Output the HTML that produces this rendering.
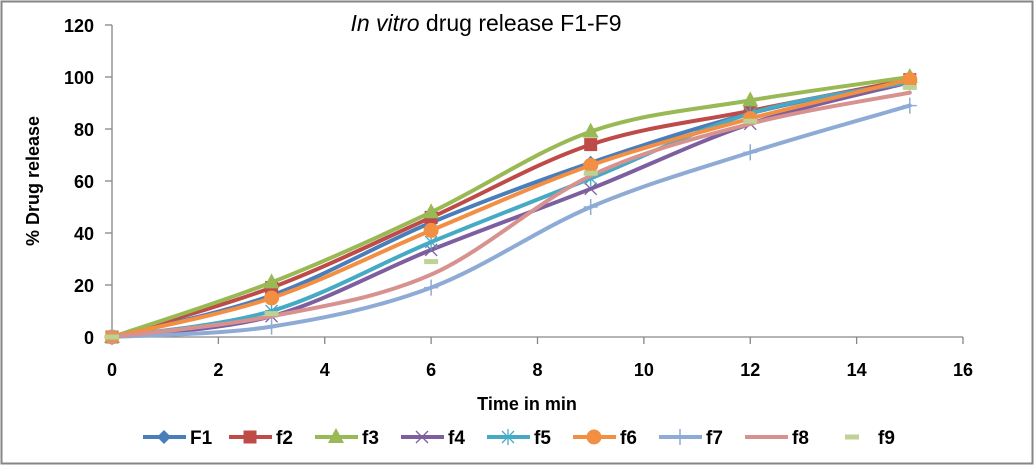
<!DOCTYPE html>
<html><head><meta charset="utf-8"><style>
html,body{margin:0;padding:0;background:#fff;}
svg{display:block;font-family:"Liberation Sans",Arial,sans-serif;}
</style></head><body>
<svg id="chart" width="1034" height="465" viewBox="0 0 1034 465">
<rect x="1.5" y="1.5" width="1031" height="462" fill="#fff" stroke="#868686" stroke-width="2"/>
<text x="486" y="31" text-anchor="middle" font-size="23"><tspan font-style="italic">In vitro</tspan><tspan> drug release F1-F9</tspan></text>
<g id="axes"></g>
<g id="series"></g>
<text x="527" y="410" text-anchor="middle" font-size="18" font-weight="bold">Time in min</text>
<text transform="translate(39,181) rotate(-90)" text-anchor="middle" font-size="18" font-weight="bold">% Drug release</text>
<g id="legend"></g>
</svg>
<script>
const times = [0, 3, 6, 9, 12, 15];
const seriesNames = ["F1","f2","f3","f4","f5","f6","f7","f8","f9"];
const F1 = [0, 16, 44, 67, 86, 99];
const f2 = [0, 19, 46, 74, 87, 99];
const f3 = [0, 21, 48, 79, 91, 100];
const f4 = [0, 8, 33.5, 57, 82, 98];
const f5 = [0, 10, 36.5, 61, 86, 98];
const f6 = [0, 15, 41, 66, 84, 99];
const f7 = [0, 4, 19, 50, 71, 89];
const f8 = [0, 8, 24, 62, 82, 94];
const f9 = [0, 9, 29, 63, 83, 96];
const xTicks = [0,2,4,6,8,10,12,14,16];
const yTicks = [0,20,40,60,80,100,120];

const seriesData = [F1,f2,f3,f4,f5,f6,f7,f8,f9];
const colors = ["#4A7EBB","#BE4B48","#98B954","#7D5FA0","#46AAC5","#F28F43","#8EABD6","#D7918F","#BDD396"];
const markers = ["diamond","square","triangle","x","star","circle","plus","none","dash"];
const hasLine = [true,true,true,true,true,true,true,true,false];
const NS = "http://www.w3.org/2000/svg";
const X0=112, X1=963, Y0=337, Y1=25;
function xs(v){return X0+(v-0)/(16-0)*(X1-X0);}
function ys(v){return Y0-(v-0)/(120-0)*(Y0-Y1);}
function mk(tag, attrs, parent){const e=document.createElementNS(NS,tag);for(const k in attrs)e.setAttribute(k,attrs[k]);parent.appendChild(e);return e;}

const axes=document.getElementById('axes');
let ya=mk('line',{x1:X0,y1:Y1,x2:X0,y2:Y0,stroke:'#868686','stroke-width':1.3},axes);


let xa=mk('line',{x1:X0,y1:Y0,x2:X1,y2:Y0,stroke:'#868686','stroke-width':1.3},axes);


yTicks.forEach(v=>{
  mk('line',{x1:X0-7,y1:ys(v),x2:X0,y2:ys(v),stroke:'#868686','stroke-width':1.3},axes);
  const t=mk('text',{x:94,y:ys(v)+7,'text-anchor':'end','font-size':18,'font-weight':'bold'},axes);
  t.textContent=v;
  
  
});
xTicks.forEach(v=>{
  mk('line',{x1:xs(v),y1:Y0,x2:xs(v),y2:Y0+7,stroke:'#868686','stroke-width':1.3},axes);
  const t=mk('text',{x:xs(v),y:376,'text-anchor':'middle','font-size':18,'font-weight':'bold'},axes);
  t.textContent=v;
  
  
});

function smoothPath(pts){
  let d=`M${pts[0][0]},${pts[0][1]}`;
  for(let i=0;i<pts.length-1;i++){
    const p0=pts[i-1]||pts[i],p1=pts[i],p2=pts[i+1],p3=pts[i+2]||p2;
    const t=1/6;
    const c1=[p1[0]+(p2[0]-p0[0])*t,p1[1]+(p2[1]-p0[1])*t];
    const c2=[p2[0]-(p3[0]-p1[0])*t,p2[1]-(p3[1]-p1[1])*t];
    d+=` C${c1[0]},${c1[1]} ${c2[0]},${c2[1]} ${p2[0]},${p2[1]}`;
  }
  return d;
}
function drawMarker(type,x,y,c,g){
  const s=7;
  switch(type){
    case 'diamond': return mk('polygon',{points:`${x},${y-s} ${x+s},${y} ${x},${y+s} ${x-s},${y}`,fill:c},g);
    case 'square': return mk('rect',{x:x-6.5,y:y-6.5,width:13,height:13,fill:c},g);
    case 'triangle': return mk('polygon',{points:`${x},${y-9} ${x+8},${y+6} ${x-8},${y+6}`,fill:c},g);
    case 'x': return mk('path',{d:`M${x-6},${y-6}L${x+6},${y+6}M${x-6},${y+6}L${x+6},${y-6}`,stroke:c,'stroke-width':1.3},g);
    case 'star': return mk('path',{d:`M${x-6},${y-6}L${x+6},${y+6}M${x-6},${y+6}L${x+6},${y-6}M${x},${y-8}L${x},${y+8}`,stroke:c,'stroke-width':1.3},g);
    case 'circle': return mk('circle',{cx:x,cy:y,r:7.5,fill:c},g);
    case 'plus': return mk('path',{d:`M${x-7},${y}L${x+7},${y}M${x},${y-8}L${x},${y+8}`,stroke:c,'stroke-width':1.5},g);
    case 'dash': return mk('rect',{x:x-7,y:y-2.5,width:14,height:5,fill:c},g);
    default: return null;
  }
}
const sg=document.getElementById('series');
seriesData.forEach((vals,i)=>{
  const g=mk('g',{},sg);
  
  
  const pts=times.map((t,j)=>[xs(t),ys(vals[j])]);
  if(hasLine[i]) mk('path',{d:smoothPath(pts),fill:'none',stroke:colors[i],'stroke-width':4,'stroke-linecap':'round'},g);
  pts.forEach(p=>{
    const m=drawMarker(markers[i],p[0],p[1],colors[i],g);
    if(m){
      
      
    }
  });
});
const lg=document.getElementById('legend');
seriesNames.forEach((n,i)=>{
  const lx=143+i*86, ly=437;
  const g=mk('g',{},lg);
  
  
  if(hasLine[i]) mk('line',{x1:lx,y1:ly,x2:lx+43,y2:ly,stroke:colors[i],'stroke-width':4},g);
  drawMarker(markers[i],lx+21,ly,colors[i],g);
  const t=mk('text',{x:lx+47,y:ly+7,'font-size':19,'font-weight':'bold'},g);
  t.textContent=n;
});
</script>
</body></html>
